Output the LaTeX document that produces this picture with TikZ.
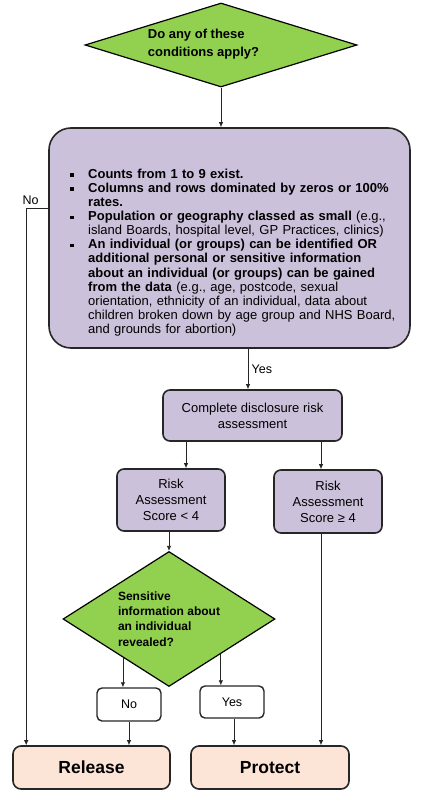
\documentclass[tikz,border=0pt]{standalone}
\usepackage{fontspec}
\setmainfont{Liberation Sans}
\usepackage{xcolor}
\usetikzlibrary{
    arrows.meta,
    shapes.geometric,
    positioning
}
\definecolor{leafgreen}{HTML}{92D050}
\definecolor{lilac}{HTML}{CCC1DA}
\definecolor{peach}{HTML}{FCE4D6}
\definecolor{edgegrey}{HTML}{262626}

\newenvironment{condlist}{%
    \begin{list}{\rule[1.6pt]{3.5pt}{3.5pt}}{%
        \setlength{\leftmargin}{18pt}%
        \setlength{\labelwidth}{3.5pt}%
        \setlength{\labelsep}{14.5pt}%
        \setlength{\itemsep}{0pt}%
        \setlength{\parsep}{0pt}%
        \setlength{\topsep}{0pt}%
        \setlength{\partopsep}{0pt}}}%
    {\end{list}}

\begin{document}
\begin{tikzpicture}[x=1pt, y=-1pt,
    choice/.style={diamond, draw=black, line width=1.2pt, fill=leafgreen, inner sep=0pt},
    procbox/.style={rectangle, rounded corners=7pt, draw=edgegrey, line width=1.6pt, fill=lilac,
        inner sep=0pt, align=center, font=\fontsize{13}{16}\selectfont},
    answer/.style={rectangle, rounded corners=5pt, draw=edgegrey, line width=1.4pt, fill=white,
        inner sep=0pt, font=\fontsize{12.5}{15}\selectfont},
    outcome/.style={rectangle, rounded corners=8pt, draw=edgegrey, line width=1.6pt, fill=peach,
        inner sep=0pt, font=\bfseries\fontsize{17.5}{20}\selectfont},
    link/.style={-{Latex[length=5pt, width=4.5pt]}, line width=0.8pt, draw=edgegrey}]
    \useasboundingbox (0,0) rectangle (426,800);
    \node[choice, minimum width=272pt, minimum height=84pt] (apply) at (221,45) {};
    \node[align=left, font=\bfseries\fontsize{13}{18}\selectfont] (applytext) at (203.5,44.5) {Do any of these\\conditions apply?};
    \node[procbox, rounded corners=22pt, minimum width=361pt, minimum height=220pt] (conds) at (229.5,238) {};
    \node[anchor=north west, inner sep=0pt, text width=340pt, align=left, font=\fontsize{13}{14.1}\selectfont] (condtext) at (70,164) {%
        \begin{condlist}
            \item \textbf{Counts from 1 to 9 exist.}
            \item \textbf{Columns and rows dominated by zeros or 100\%\newline rates.}
            \item \textbf{Population or geography classed as small} (e.g.,\newline island Boards, hospital level, GP Practices, clinics)
            \item \textbf{An individual (or groups) can be identified OR\newline additional personal or sensitive information\newline about an individual (or groups) can be gained\newline from the data} (e.g., age, postcode, sexual\newline orientation, ethnicity of an individual, data about\newline children broken down by age group and NHS Board,\newline and grounds for abortion)
        \end{condlist}};
    \node[procbox, minimum width=179pt, minimum height=51pt] (assess) at (252.5,415.5) {Complete disclosure risk\\assessment};
    \node[procbox, minimum width=108pt, minimum height=62pt] (lowrisk) at (171,500) {Risk\\Assessment\\Score < 4};
    \node[procbox, minimum width=108pt, minimum height=63pt] (highrisk) at (328,501.5) {Risk\\Assessment\\Score ≥ 4};
    \node[choice, shape aspect=1.6, minimum width=212pt, minimum height=135pt, align=left,
        font=\bfseries\fontsize{12}{15.3}\selectfont] (reveal) at (169,619) {Sensitive\\information about\\an individual\\revealed?};
    \node[answer, minimum width=64pt, minimum height=33pt] (noans) at (129,704.5) {No};
    \node[answer, minimum width=64pt, minimum height=32pt] (yesans) at (232,702) {Yes};
    \node[outcome, minimum width=157pt, minimum height=43pt] (release) at (91.5,767.5) {Release};
    \node[outcome, minimum width=158pt, minimum height=43pt] (protect) at (270,767.5) {Protect};
    \draw[link] (apply.south) -- (apply.south |- conds.north);
    \draw[link] ([yshift=30pt]conds.west) -| node[pos=0.4, above, font=\fontsize{12.5}{15}\selectfont]{No} ([xshift=14pt]release.north west);
    \draw[link] ([xshift=-4.5pt]assess.north |- conds.south) -- node[right, font=\fontsize{12.5}{15}\selectfont]{Yes} ([xshift=-4.5pt]assess.north);
    \draw[link] ([xshift=-66.5pt]assess.south) -- ([xshift=-66.5pt]assess.south |- lowrisk.north);
    \draw[link] ([xshift=68.5pt]assess.south) -- ([xshift=68.5pt]assess.south |- highrisk.north);
    \draw[link] (lowrisk.south -| reveal.north) -- (reveal.north);
    \draw[link] (reveal.-140) -- (reveal.-140 |- noans.north);
    \draw[link] (reveal.-34) -- (reveal.-34 |- yesans.north);
    \draw[link] (noans.south) -- (noans.south |- release.north);
    \draw[link] ([xshift=2pt]yesans.south) -- ([xshift=2pt]yesans.south |- protect.north);
    \draw[link] ([xshift=-7pt]highrisk.south) -- ([xshift=-7pt]highrisk.south |- protect.north);
\end{tikzpicture}
\end{document}
